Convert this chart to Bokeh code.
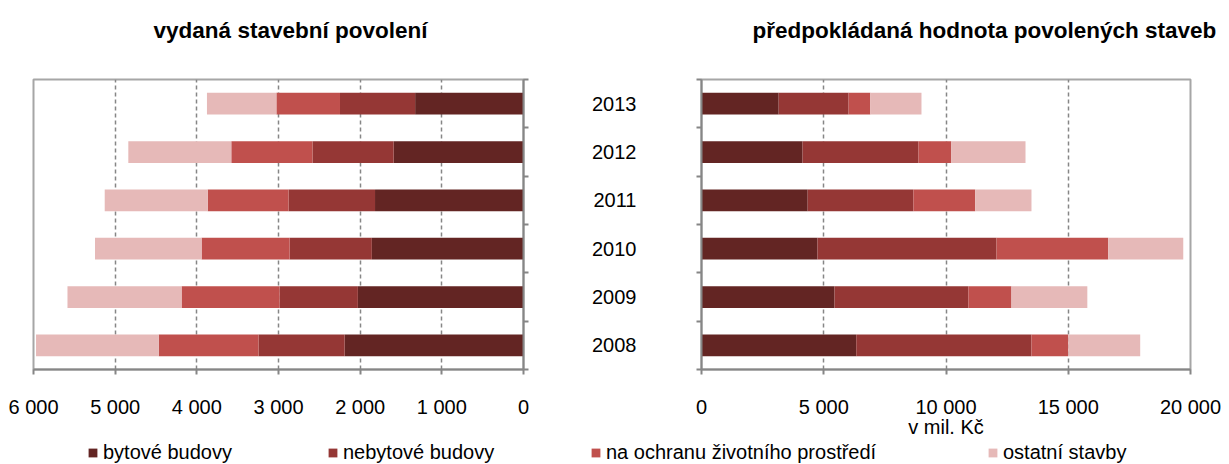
from bokeh.plotting import figure
from bokeh.models import (ColumnDataSource, Range1d, LinearAxis, FixedTicker, Legend, LegendItem, Label)
from bokeh.layouts import row, column
from bokeh.embed import file_html
from bokeh.resources import INLINE

# ---------------- data ----------------
years = ["2008", "2009", "2010", "2011", "2012", "2013"]
series_names = ["bytové budovy", "nebytové budovy", "na ochranu životního prostředí", "ostatní stavby"]
colors = ["#632523", "#953735", "#C0504D", "#E6B9B8"]

# vydaná stavební povolení (počet)
bytove_pocet = [2190, 2028, 1857, 1818, 1590, 1327]
nebytove_pocet = [1055, 959, 1007, 1059, 994, 920]
ochrana_pocet = [1222, 1200, 1078, 990, 994, 779]
ostatni_pocet = [1502, 1397, 1305, 1261, 1261, 850]

# předpokládaná hodnota povolených staveb (mil. Kč)
bytove_hodnota = [6330, 5440, 4743, 4342, 4133, 3156]
nebytove_hodnota = [7166, 5475, 7323, 4324, 4742, 2860]
ochrana_hodnota = [1500, 1762, 4569, 2528, 1343, 889]
ostatni_hodnota = [2947, 3103, 3069, 2302, 3034, 2092]

left_ticks = [0, 1000, 2000, 3000, 4000, 5000, 6000]
right_ticks = [0, 5000, 10000, 15000, 20000]

title_left = "vydaná stavební povolení"
title_right = "předpokládaná hodnota povolených staveb"
right_axis_label = "v mil. Kč"

FONT = "Liberation Sans"
AXIS_COL = "#868686"
OUTLINE_COL = "#A6A6A6"
W = 1229
TOP_H = 50
MID_H = 390
LEG_H = 24

keys = ["bytove", "nebytove", "ochrana", "ostatni"]
n = len(years)
ypos = [i + 0.5 for i in range(n)]          # category centres (2008 at bottom)
bounds = list(range(n + 1))                 # category boundaries


def fmt(v):
    return f"{v:,}".replace(",", " ")


def style_axis_lines(ax):
    ax.axis_line_color = AXIS_COL
    ax.axis_line_width = 2
    ax.major_tick_line_color = AXIS_COL
    ax.major_tick_line_width = 2
    ax.major_tick_in = 0
    ax.major_tick_out = 5
    ax.minor_tick_line_color = None


def style_xaxis(ax, ticks):
    ax.ticker = FixedTicker(ticks=ticks)
    ax.major_label_overrides = {t: fmt(t) for t in ticks}
    ax.major_label_text_font = FONT
    ax.major_label_text_font_size = "20px"
    ax.major_label_text_color = "#000000"
    ax.major_label_standoff = 21
    style_axis_lines(ax)


def boundary_axis():
    ax = LinearAxis(ticker=FixedTicker(ticks=bounds))
    ax.major_label_text_font_size = "0px"
    ax.major_label_overrides = {b: "" for b in bounds}
    ax.major_label_standoff = 0
    style_axis_lines(ax)
    return ax


def blank_fig(width, height, x_range, y_range):
    p = figure(width=width, height=height, x_range=x_range, y_range=y_range,
               x_axis_location=None, y_axis_location=None, output_backend="svg",
               toolbar_location=None, min_border=0, outline_line_color=None)
    p.grid.grid_line_color = None
    p.background_fill_color = "white"
    p.border_fill_color = "white"
    return p


def base_fig(width, x_range, min_left, min_right):
    p = figure(width=width, height=MID_H, x_range=x_range, y_range=Range1d(0, n),
               y_axis_location=None, output_backend="svg", toolbar_location=None,
               min_border_left=min_left, min_border_right=min_right,
               min_border_top=29, min_border_bottom=67)
    p.background_fill_color = "white"
    p.border_fill_color = "white"
    p.outline_line_color = OUTLINE_COL
    p.outline_line_width = 2
    p.ygrid.grid_line_color = None
    p.xgrid.grid_line_color = AXIS_COL
    p.xgrid.grid_line_width = 1.5
    p.xgrid.grid_line_dash = "4 3"
    return p


# ---------------- titles (top strip) ----------------
ptitle = blank_fig(W, TOP_H, Range1d(0, W), Range1d(0, TOP_H))
ptitle.add_layout(Label(x=290, y=TOP_H - 30, text=title_left, text_align="center",
                        text_baseline="middle", text_font=FONT, text_font_size="22.5px",
                        text_font_style="bold", text_color="#000000"))
ptitle.add_layout(Label(x=752, y=TOP_H - 30, text=title_right, text_align="left",
                        text_baseline="middle", text_font=FONT, text_font_size="22.5px",
                        text_font_style="bold", text_color="#000000"))

# ---------------- left chart ----------------
src_l = ColumnDataSource(dict(y=ypos, year=years, bytove=bytove_pocet, nebytove=nebytove_pocet,
                              ochrana=ochrana_pocet, ostatni=ostatni_pocet))
p1 = base_fig(548, Range1d(6000, 0), 33, 25)
style_xaxis(p1.xaxis[0], left_ticks)
p1.xgrid.ticker = FixedTicker(ticks=left_ticks)
p1.add_layout(boundary_axis(), "right")
p1.hbar_stack(keys, y="y", height=0.45, fill_color=colors, line_color=None, source=src_l)

# ---------------- right chart ----------------
src_r = ColumnDataSource(dict(y=ypos, year=years, bytove=bytove_hodnota, nebytove=nebytove_hodnota,
                              ochrana=ochrana_hodnota, ostatni=ostatni_hodnota))
p2 = base_fig(W - 548, Range1d(0, 20000), 153, 39)
style_xaxis(p2.xaxis[0], right_ticks)
p2.xgrid.ticker = FixedTicker(ticks=right_ticks)
p2.xaxis[0].axis_label = right_axis_label
p2.xaxis[0].axis_label_text_font = FONT
p2.xaxis[0].axis_label_text_font_size = "20px"
p2.xaxis[0].axis_label_text_font_style = "normal"
p2.xaxis[0].axis_label_text_color = "#000000"
p2.xaxis[0].axis_label_standoff = -5
p2.add_layout(boundary_axis(), "left")
lab_ax = LinearAxis(ticker=FixedTicker(ticks=ypos))
lab_ax.major_label_overrides = {y: yr for y, yr in zip(ypos, years)}
lab_ax.axis_line_color = None
lab_ax.major_tick_line_color = None
lab_ax.minor_tick_line_color = None
lab_ax.major_tick_out = 0
lab_ax.major_tick_in = 0
lab_ax.major_label_standoff = 60
lab_ax.major_label_text_font = FONT
lab_ax.major_label_text_font_size = "20px"
lab_ax.major_label_text_color = "#000000"
p2.add_layout(lab_ax, "left")
p2.hbar_stack(keys, y="y", height=0.45, fill_color=colors, line_color=None, source=src_r)

# ---------------- legend strip ----------------
pleg = blank_fig(W, LEG_H, Range1d(-20, -10), Range1d(-20, -10))
# same stacked series, drawn outside the visible range: only the legend keys show
rl = pleg.hbar_stack(keys, y="y", height=0.45, fill_color=colors, line_color=None, source=src_r)
for name, rend, x in zip(series_names, rl, [87, 327, 590, 987]):
    leg = Legend(items=[LegendItem(label=name, renderers=[rend])], location=(x, 0),
                 orientation="horizontal", glyph_width=11, glyph_height=11, label_standoff=5,
                 padding=0, margin=0, spacing=0, border_line_color=None, background_fill_alpha=0,
                 label_text_font=FONT, label_text_font_size="20px", label_text_color="#000000",
                 label_height=20)
    pleg.add_layout(leg, "center")

layout = column(ptitle, row(p1, p2), pleg)
open("out.html", "w").write(file_html(layout, INLINE))
